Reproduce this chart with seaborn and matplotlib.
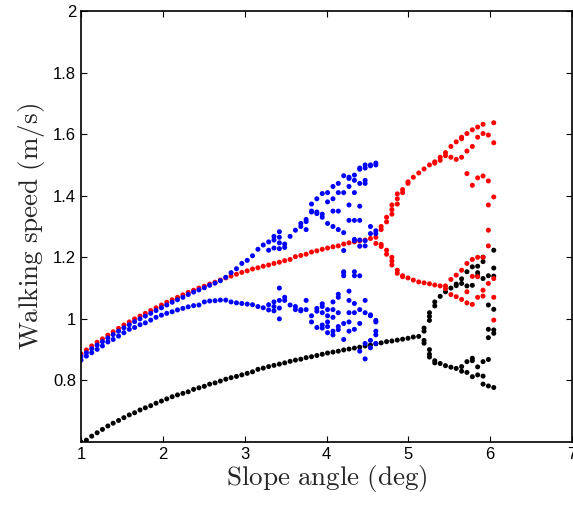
import matplotlib
matplotlib.use("Agg")
import matplotlib.pyplot as plt
import seaborn as sns
import pandas as pd
from matplotlib.ticker import FormatStrFormatter

# slope angles (deg) of the continuation steps
slope = [1.000, 1.066, 1.131, 1.197, 1.262, 1.328, 1.393, 1.459, 1.524, 1.590,
         1.655, 1.721, 1.786, 1.852, 1.917, 1.983, 2.048, 2.114, 2.179, 2.245,
         2.310, 2.376, 2.441, 2.507, 2.572, 2.638, 2.703, 2.769, 2.834, 2.900,
         2.965, 3.031, 3.096, 3.162, 3.227, 3.293, 3.358, 3.424, 3.489, 3.555,
         3.620, 3.686, 3.751, 3.817, 3.882, 3.948, 4.013, 4.079, 4.144, 4.210,
         4.275, 4.341, 4.406, 4.472, 4.537, 4.603, 4.668, 4.734, 4.799, 4.865,
         4.930, 4.996, 5.061, 5.127, 5.192, 5.258, 5.323, 5.389, 5.454, 5.520,
         5.585, 5.651, 5.716, 5.782, 5.847, 5.913, 5.978, 6.044]

# black gait: period-1 branch (steps 0..63)
black_speed = [0.600, 0.606, 0.619, 0.630, 0.641, 0.652, 0.661, 0.670, 0.679, 0.688,
               0.695, 0.704, 0.711, 0.718, 0.726, 0.733, 0.740, 0.747, 0.753, 0.758,
               0.763, 0.771, 0.776, 0.781, 0.788, 0.792, 0.798, 0.804, 0.809, 0.813,
               0.818, 0.823, 0.828, 0.836, 0.840, 0.845, 0.849, 0.853, 0.857, 0.862,
               0.866, 0.869, 0.874, 0.877, 0.881, 0.885, 0.889, 0.892, 0.895, 0.899,
               0.902, 0.905, 0.908, 0.912, 0.915, 0.919, 0.922, 0.926, 0.928, 0.931,
               0.934, 0.937, 0.941, 0.943]
# black gait after period doubling: step -> speeds
black_tail = {
    64: [0.970, 0.960, 0.930, 0.921],
    65: [1.020, 1.008, 0.995, 0.900, 0.885, 0.876],
    66: [1.055, 1.042, 0.864, 0.857],
    67: [1.073, 0.855],
    68: [1.088, 0.848],
    69: [1.100, 0.843],
    70: [1.113, 1.108, 0.839],
    71: [1.130, 1.115, 0.845, 0.830],
    72: [1.153, 1.107, 0.861, 0.826],
    73: [1.169, 1.109, 0.872, 0.864, 0.812],
    74: [1.171, 1.150, 1.140, 0.844, 0.818],
    75: [1.200, 1.186, 1.131, 0.861, 0.814, 0.788],
    76: [1.140, 1.045, 0.966, 0.939, 0.868, 0.782],
    77: [1.223, 1.165, 1.139, 1.031, 0.964, 0.953, 0.777],
}

# red gait: period-1 branch (steps 0..54)
red_speed = [0.886, 0.899, 0.912, 0.924, 0.935, 0.947, 0.958, 0.969, 0.980, 0.990,
             1.000, 1.009, 1.018, 1.027, 1.036, 1.045, 1.054, 1.062, 1.070, 1.078,
             1.086, 1.093, 1.100, 1.106, 1.113, 1.119, 1.126, 1.133, 1.139, 1.145,
             1.151, 1.156, 1.162, 1.166, 1.171, 1.175, 1.180, 1.184, 1.189, 1.193,
             1.202, 1.206, 1.210, 1.217, 1.221, 1.226, 1.230, 1.234, 1.237, 1.243,
             1.247, 1.250, 1.253, 1.256, 1.261]
red_tail = {
    55: [1.265, 1.245],
    56: [1.300, 1.290, 1.242, 1.235],
    57: [1.330, 1.315, 1.223, 1.210],
    58: [1.370, 1.355, 1.340, 1.200, 1.188, 1.175],
    59: [1.406, 1.390, 1.373, 1.158, 1.148],
    60: [1.420, 1.410, 1.140, 1.137],
    61: [1.445, 1.440, 1.133],
    62: [1.460, 1.126],
    63: [1.474, 1.120],
    64: [1.487, 1.117],
    65: [1.500, 1.114],
    66: [1.510, 1.506, 1.110],
    67: [1.525, 1.515, 1.107],
    68: [1.540, 1.530, 1.107, 1.098],
    69: [1.560, 1.525, 1.128, 1.079],
    70: [1.575, 1.518, 1.142, 1.072],
    71: [1.590, 1.585, 1.525, 1.158, 1.063],
    72: [1.602, 1.545, 1.472, 1.180, 1.088, 1.052],
    73: [1.614, 1.560, 1.434, 1.193, 1.138, 1.047],
    74: [1.623, 1.590, 1.458, 1.200, 1.137, 1.070],
    75: [1.632, 1.602, 1.464, 1.200, 1.093, 1.074],
    76: [1.597, 1.448, 1.370, 1.288, 1.237, 1.115],
    77: [1.637, 1.572, 1.396, 1.131, 1.070, 0.996],
}

# blue gait: period-2 branches (steps 0..34)
blue_upper = [0.878, 0.890, 0.903, 0.915, 0.926, 0.938, 0.949, 0.960, 0.971, 0.981,
              0.991, 1.000, 1.009, 1.018, 1.027, 1.036, 1.045, 1.054, 1.062, 1.070,
              1.079, 1.087, 1.094, 1.101, 1.109, 1.116, 1.124, 1.135, 1.150, 1.163,
              1.180, 1.190, 1.205, 1.226, 1.240]
blue_lower = [0.866, 0.879, 0.890, 0.901, 0.912, 0.925, 0.933, 0.944, 0.955, 0.966,
              0.972, 0.981, 0.987, 0.996, 1.005, 1.012, 1.018, 1.023, 1.029, 1.034,
              1.039, 1.043, 1.045, 1.055, 1.058, 1.059, 1.061, 1.061, 1.055, 1.052,
              1.050, 1.048, 1.046, 1.040, 1.036]
blue_tail = {
    35: [1.250, 1.223, 1.046, 1.029],
    36: [1.268, 1.256, 1.230, 1.055, 1.040, 1.026],
    37: [1.283, 1.265, 1.247, 1.228, 1.100, 1.060, 1.035, 1.000],
    38: [1.243, 1.232, 1.070, 1.060],
    39: [1.268, 1.045],
    40: [1.288, 1.040, 1.030],
    41: [1.310, 1.300, 1.030, 1.026],
    42: [1.323, 1.316, 1.290, 1.060, 1.030],
    43: [1.373, 1.350, 1.347, 1.010, 0.990],
    44: [1.390, 1.347, 1.342, 1.034, 1.025, 0.972],
    45: [1.407, 1.340, 1.330, 1.049, 1.040, 1.020, 0.980, 0.970],
    46: [1.410, 1.380, 1.310, 1.030, 1.010, 0.990, 0.975, 0.955],
    47: [1.430, 1.390, 1.350, 1.300, 1.055, 1.030, 1.005, 0.960, 0.948],
    48: [1.440, 1.410, 1.350, 1.290, 1.080, 1.070, 1.020, 0.975, 0.965],
    49: [1.465, 1.410, 1.280, 1.222, 1.153, 1.150, 1.140, 0.985, 0.933],
    50: [1.460, 1.456, 1.430, 1.370, 1.320, 1.090, 1.060, 1.020, 0.990, 0.960],
    51: [1.467, 1.450, 1.410, 1.320, 1.258, 1.254, 1.153, 1.140, 1.050, 1.020, 0.966],
    52: [1.490, 1.486, 1.440, 1.366, 1.320, 1.256, 1.236, 1.140, 1.030, 0.985, 0.895],
    53: [1.500, 1.490, 1.450, 1.440, 1.254, 1.237, 1.060, 1.020, 0.920, 0.870],
    54: [1.500, 1.497, 1.300, 1.277, 1.013, 1.010, 0.930, 0.906],
    55: [1.506, 1.500, 1.286, 1.277, 0.995, 0.990, 0.960, 0.948, 0.920],
}


def collect(gait, branches, tail):
    rows = []
    for branch in branches:
        for i, v in enumerate(branch):
            rows.append((slope[i], v, gait))
    for i, speeds in tail.items():
        for v in speeds:
            rows.append((slope[i], v, gait))
    return rows


rows = (collect("black", [black_speed], black_tail)
        + collect("red", [red_speed], red_tail)
        + collect("blue", [blue_upper, blue_lower], blue_tail))
df = pd.DataFrame(rows, columns=["slope", "speed", "gait"])

sns.set_style("ticks")
plt.rcParams["font.family"] = ["Liberation Sans", "DejaVu Sans"]
plt.rcParams["mathtext.fontset"] = "cm"
plt.rcParams["xtick.direction"] = "in"
plt.rcParams["ytick.direction"] = "in"

fig = plt.figure(figsize=(5.73, 5.08), dpi=100)
ax = fig.add_axes([81 / 573, 66 / 508, 491 / 573, 431 / 508])

sns.scatterplot(data=df, x="slope", y="speed", hue="gait",
                palette={"black": "#000000", "red": "#ff0000", "blue": "#0000ff"},
                s=13, linewidth=0, legend=False, ax=ax)

ax.set_xlim(1, 7)
ax.set_ylim(0.6, 2)
ax.set_xticks([1, 2, 3, 4, 5, 6, 7])
ax.set_yticks([0.8, 1.0, 1.2, 1.4, 1.6, 1.8, 2.0])
ax.xaxis.set_major_formatter(FormatStrFormatter("%g"))
ax.yaxis.set_major_formatter(FormatStrFormatter("%g"))
ax.tick_params(axis="both", which="major", labelsize=12, length=4, width=0.8,
               top=True, right=True, colors="#000000")
for sp in ax.spines.values():
    sp.set_visible(True)
    sp.set_linewidth(1.2)
    sp.set_color("#000000")

ax.set_xlabel(r"$\mathrm{Slope\ angle\ (deg)}$", fontsize=19.5, labelpad=1)
ax.set_ylabel(r"$\mathrm{Walking\ speed\ (m/s)}$", fontsize=19.5, labelpad=4)

fig.savefig("out.png", dpi=100)
